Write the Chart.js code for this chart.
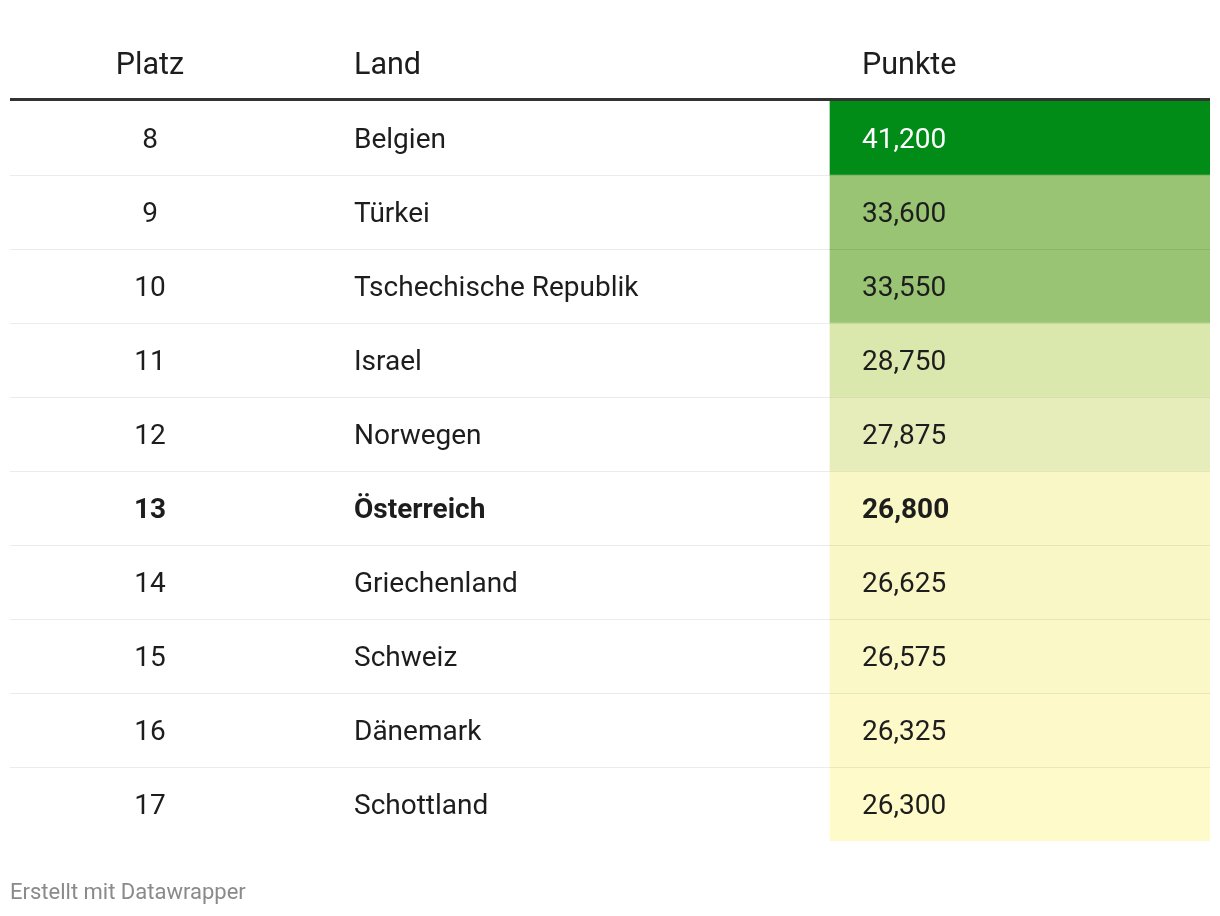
<!DOCTYPE html>
<html>
<head>
<meta charset="utf-8">
<script src="https://cdn.jsdelivr.net/npm/chart.js@4.4.1/dist/chart.umd.min.js"></script>
<style>
  body { margin: 0; background: #fff; }
  #wrap { width: 1220px; height: 916px; }
</style>
</head>
<body>
<div id="wrap"><canvas id="table" width="1220" height="916"></canvas></div>
<script>
// table data
const ranks = [8, 9, 10, 11, 12, 13, 14, 15, 16, 17];
const countries = ["Belgien", "Türkei", "Tschechische Republik", "Israel", "Norwegen",
    "Österreich", "Griechenland", "Schweiz", "Dänemark", "Schottland"];
const points = [41.2, 33.6, 33.55, 28.75, 27.875, 26.8, 26.625, 26.575, 26.325, 26.3];
const headers = ["Platz", "Land", "Punkte"];
const highlightRow = "Österreich";

// cell colours
const cellColors = ["#008c17", "#98c474", "#98c474", "#dbe8ad", "#e6edba",
    "#f9f7c6", "#faf7c6", "#fbf8c7", "#fdf9c9", "#fefac9"];

// table is laid out on a 0..1200 wide x scale
const punkteSpan = [820, 1200];
const colText = { platz: 140, land: 344, punkte: 852 };
const FONT = "Roboto, 'Open Sans', sans-serif";

//draws the header, text of each cell, row separators and the footer
const tablePlugin = {
    id: "tableText",
    afterDatasetsDraw(chart) {
        const ctx = chart.ctx;
        const x = chart.scales.x, y = chart.scales.y;
        const left = x.getPixelForValue(0), right = x.getPixelForValue(1200);
        const rowH = y.getPixelForValue(1) - y.getPixelForValue(0);
        ctx.save();

        //thin separators between rows (over the coloured cells too)
        ctx.strokeStyle = "rgba(0,0,0,0.075)";
        ctx.lineWidth = 1;
        for (let i = 1; i < countries.length; i++) {
            const yy = Math.round(y.getPixelForValue(i) - rowH / 2) + 0.5;
            ctx.beginPath();
            ctx.moveTo(left, yy);
            ctx.lineTo(right, yy);
            ctx.stroke();
        }

        //header
        const top = y.getPixelForValue(0) - rowH / 2;
        ctx.fillStyle = "#333";
        ctx.fillRect(left, top - 3, right - left, 3);
        ctx.font = "30.5px " + FONT;
        ctx.fillStyle = "#1d1d1d";
        ctx.textBaseline = "middle";
        const hy = top - 35;
        ctx.textAlign = "center";
        ctx.fillText(headers[0], x.getPixelForValue(colText.platz), hy);
        ctx.textAlign = "left";
        ctx.fillText(headers[1], x.getPixelForValue(colText.land), hy);
        ctx.fillText(headers[2], x.getPixelForValue(colText.punkte), hy);

        //body
        for (let i = 0; i < countries.length; i++) {
            const yy = y.getPixelForValue(i) + 2.5;
            const bold = countries[i] === highlightRow;
            ctx.font = (bold ? "bold " : "") + "28px " + FONT;
            ctx.fillStyle = "#1d1d1d";
            ctx.textAlign = "center";
            ctx.fillText(String(ranks[i]), x.getPixelForValue(colText.platz), yy);
            ctx.textAlign = "left";
            ctx.fillText(countries[i], x.getPixelForValue(colText.land), yy);
            ctx.fillStyle = i === 0 ? "#ffffff" : "#1d1d1d";
            ctx.fillText(points[i].toFixed(3).replace(".", ","), x.getPixelForValue(colText.punkte), yy);
        }

        //footer
        ctx.font = "22px " + FONT;
        ctx.fillStyle = "#8a8a8a";
        ctx.textAlign = "left";
        ctx.fillText("Erstellt mit Datawrapper", left, 893);
        ctx.restore();
    }
};

const ctx = document.getElementById("table").getContext("2d");
new Chart(ctx, {
    type: "bar",
    data: {
        labels: countries,
        datasets: [{
            data: points.map(() => punkteSpan),
            backgroundColor: cellColors,
            borderWidth: 0,
            barPercentage: 1,
            categoryPercentage: 1
        }]
    },
    options: {
        indexAxis: "y",
        responsive: false,
        animation: false,
        devicePixelRatio: 1,
        layout: { padding: { top: 101, bottom: 75, left: 10, right: 10 } },
        plugins: { legend: { display: false }, tooltip: { enabled: false } },
        scales: {
            x: { min: 0, max: 1200, display: false },
            y: { display: false }
        }
    },
    plugins: [tablePlugin]
});
</script>
</body>
</html>
